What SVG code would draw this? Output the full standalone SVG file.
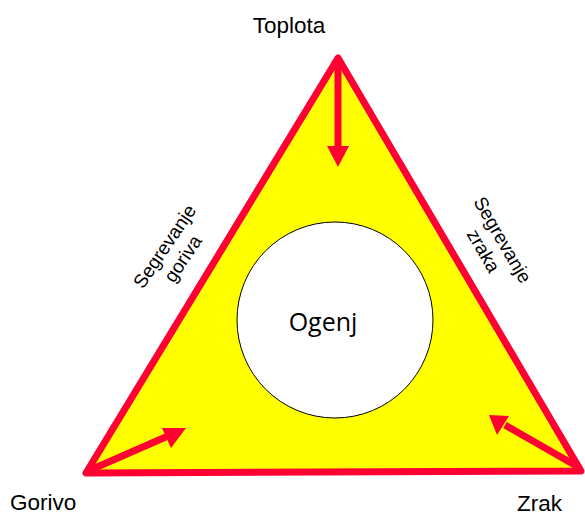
<svg xmlns="http://www.w3.org/2000/svg" width="585" height="516" viewBox="0 0 585 516">
<style>
.lbl{font-family:"Liberation Sans",Arial,sans-serif;font-size:19px;fill:#000}
.big{font-size:22.5px}
.arr{stroke:#FF0033;stroke-width:7;fill:none}
.head{fill:#FF0033}
</style>
<rect width="585" height="516" fill="#fff"/>
<g id="triangle">
<polygon points="338,58 86,473 581,471" fill="#FFFF00" stroke="#FF0033" stroke-width="7" stroke-linejoin="round"/>
</g>
<g id="ogenj">
<circle cx="335" cy="320" r="98" fill="#fff" stroke="#000" stroke-width="1"/>
<text x="323" y="331" text-anchor="middle" font-family="'Open Sans','Noto Sans',sans-serif" font-size="25" fill="#000">Ogenj</text>
</g>
<g id="toplota"><text class="lbl big" x="289" y="33" text-anchor="middle">Toplota</text></g>
<g id="gorivo"><text class="lbl big" x="10" y="510">Gorivo</text></g>
<g id="zrak"><text class="lbl big" x="517" y="511">Zrak</text></g>
<g id="seg-goriva"><text class="lbl" text-anchor="middle" transform="translate(170,250) rotate(-56)"><tspan x="0" y="0">Segrevanje</tspan><tspan x="0" y="22">goriva</tspan></text></g>
<g id="seg-zraka"><text class="lbl" text-anchor="middle" transform="translate(497,243) rotate(60)"><tspan x="0" y="0">Segrevanje</tspan><tspan x="0" y="22">zraka</tspan></text></g>
<g id="connectors">
<line class="arr" x1="338" y1="60" x2="338" y2="148"/>
<polygon class="head" points="327,146 349,146 338,167"/>
<line class="arr" x1="88" y1="471" x2="168" y2="436"/>
<polygon class="head" points="162,428 171,448 186,428"/>
<line class="arr" x1="580" y1="468" x2="505" y2="425"/>
<polygon class="head" points="509,416 497,435 489,415"/>
</g>
</svg>
